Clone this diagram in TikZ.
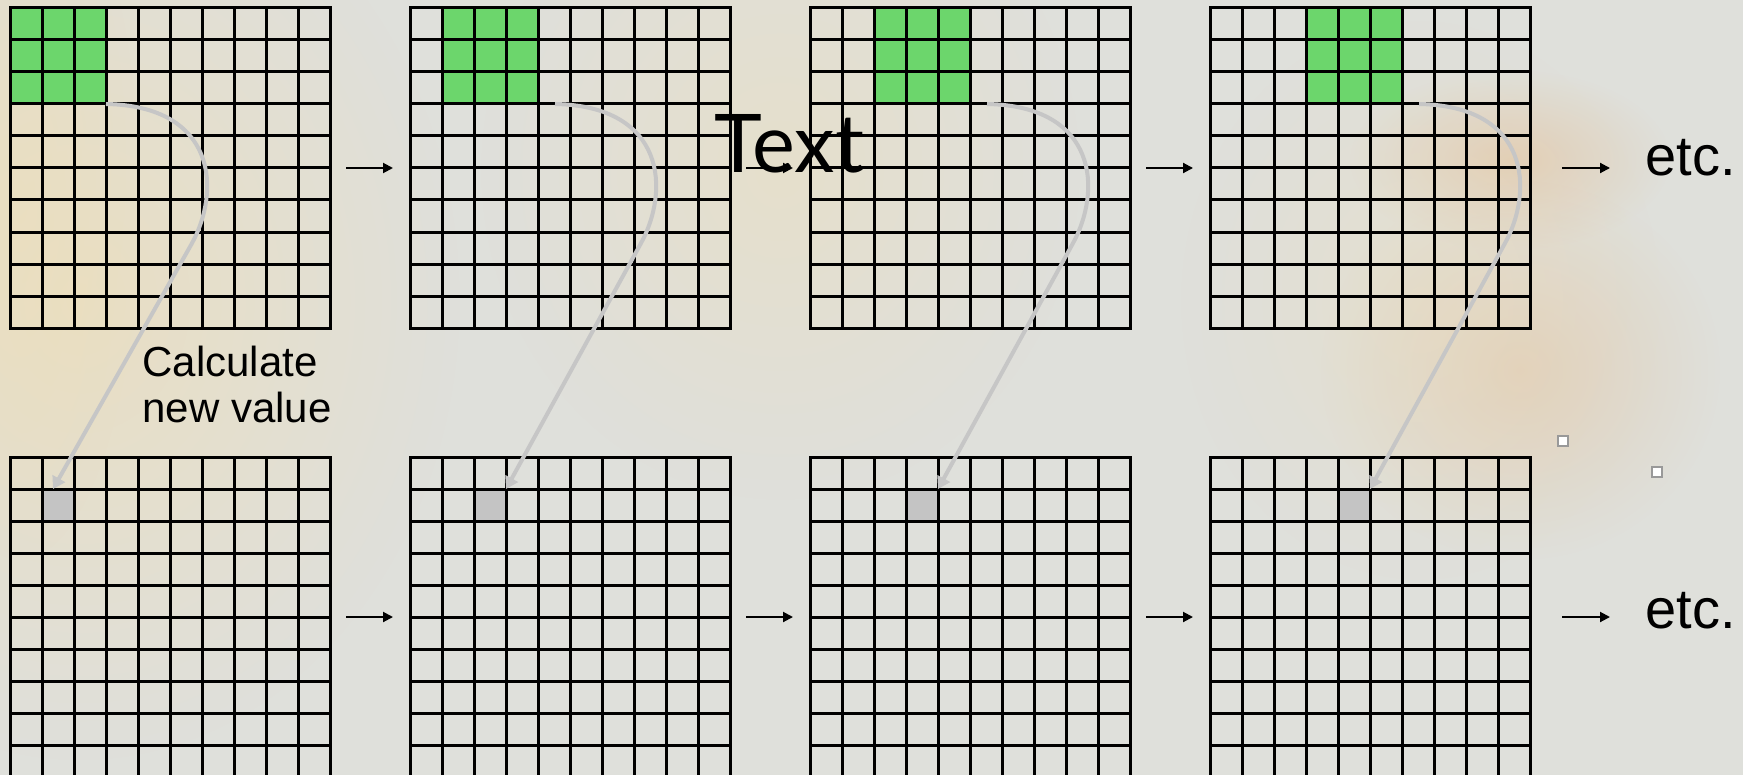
\documentclass[tikz,border=0pt]{standalone}
\usepackage{fontspec}
\setmainfont{Liberation Sans}
\newfontfamily\titlefont{Lato}
\usetikzlibrary{arrows.meta,calc,fadings}
\tikzfading[name=softblob, inner color=transparent!0, outer color=transparent!100]
\definecolor{bg}{RGB}{223,224,219}
\definecolor{cellgreen}{RGB}{108,214,108}
\definecolor{cellgray}{RGB}{196,196,196}
\definecolor{linkgray}{RGB}{198,198,198}
\definecolor{beige}{RGB}{238,222,185}
\definecolor{rust}{RGB}{228,190,150}
\begin{document}
\begin{tikzpicture}[x=0.5pt,y=-0.5pt,
  gridbox/.style={draw=none, minimum width=160pt, minimum height=160pt, inner sep=0pt, outer sep=0pt},
  greenblock/.style={fill=cellgreen, draw=none, minimum width=48pt, minimum height=48pt, inner sep=0pt, outer sep=0pt},
  graycell/.style={fill=cellgray, draw=none, minimum width=16pt, minimum height=16pt, inner sep=0pt, outer sep=0pt},
  gridline/.style={black, line width=1.5pt, line cap=rect},
  flow/.style={black, line width=1pt, -{Triangle[length=5pt,width=5pt]}},
  link/.style={linkgray, line width=2pt, -{Triangle[length=6pt,width=7pt]}},
  lbl/.style={font=\fontsize{21}{23}\selectfont, inner sep=0pt, align=left},
  etcstyle/.style={font=\fontsize{28}{30}\selectfont, inner sep=0pt, anchor=base west},
  handle/.style={draw=black!40, fill=white, line width=1.1pt, minimum size=5pt, inner sep=0pt},
  blob/.style={path fading=softblob},
]
\useasboundingbox (0,0) rectangle (1743,775);
\fill[bg] (0,0) rectangle (1743,775);
\begin{scope}
\clip (0,0) rectangle (1743,775);
% faint background texture
\fill[beige, blob, opacity=0.7] (80,300) ellipse (380 and 460);
\fill[beige, blob, opacity=0.5] (20,200) ellipse (120 and 360);
\fill[beige, blob, opacity=0.45] (780,170) ellipse (300 and 330);
\fill[rust, blob, opacity=0.55] (1510,160) ellipse (160 and 90);
\fill[rust, blob, opacity=0.45] (1520,370) ellipse (200 and 190);
\fill[beige, blob, opacity=0.35] (1420,300) ellipse (240 and 280);

% grids
\foreach \k in {0,...,3} {
  \pgfmathsetmacro\gx{10+400*\k}
  \node[gridbox] (g\k) at (\gx+160, 168) {};
  \node[gridbox] (h\k) at (\gx+160, 617) {};
  \node[greenblock] (gb\k) at (\gx+32*\k+48, 56) {};
  \node[graycell] (gc\k) at (\gx+32*\k+48, 505) {};
  \foreach \i in {0,...,10} {
    \draw[gridline] (\gx+32*\i, 8) -- (\gx+32*\i, 328);
    \draw[gridline] (\gx, 8+32*\i) -- (\gx+320, 8+32*\i);
    \draw[gridline] (\gx+32*\i, 457) -- (\gx+32*\i, 777);
    \draw[gridline] (\gx, 457+32*\i) -- (\gx+320, 457+32*\i);
  }
}

% link start / end points
\coordinate (s0) at (gb0.south east);
\coordinate (e0) at ($(gc0.north west)+(11,0)$);
\foreach \k in {1,2,3} {
  \coordinate (s\k) at ($(gb\k.south east)+(17,0)$);
  \coordinate (e\k) at (gc\k.north east);
}
\foreach \k in {0,...,3} {
  \draw[link] (s\k) .. controls ($(s\k)+(110,2)$) and ($(s\k)+(116,86)$) .. ($(s\k)+(85,141)$) -- (e\k);
}

% flow arrows
\foreach \a/\b in {0/1,1/2,2/3} {
  \draw[flow, shorten <=8pt, shorten >=8.5pt] (g\a.east) -- (g\b.west);
  \draw[flow, shorten <=8pt, shorten >=8.5pt] (h\a.east) -- (h\b.west);
}
\node[etcstyle] (etcA) at (1645,176) {etc.};
\node[etcstyle] (etcB) at (1645,628) {etc.};
\draw[flow, shorten <=16pt, shorten >=17.5pt] (g3.east) -- (g3.east -| etcA.west);
\draw[flow, shorten <=16pt, shorten >=17.5pt] (h3.east) -- (h3.east -| etcB.west);

% labels
\node[lbl, anchor=north west] (calc) at (142,346) {Calculate\\new value};
\node[font=\titlefont\fontsize{40.5}{40}\selectfont, anchor=base west, inner sep=0pt] (title) at (714,173) {Text};

% selection handles
\node[handle] (hd1) at (1563,441) {};
\node[handle] (hd2) at (1657,472) {};
\end{scope}
\end{tikzpicture}
\end{document}
